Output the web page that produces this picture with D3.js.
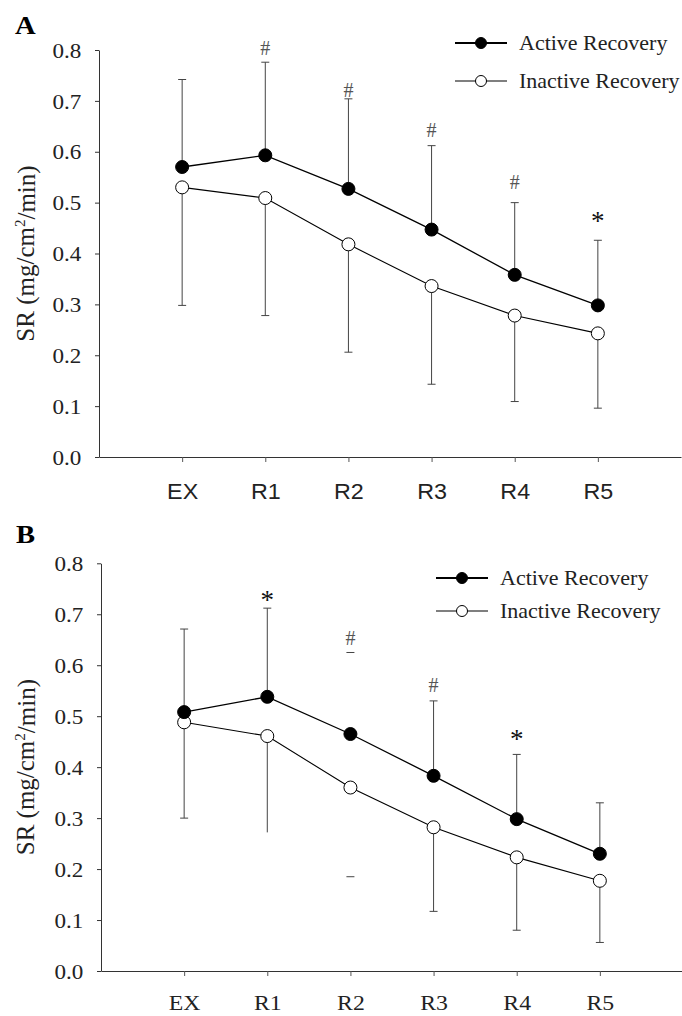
<!DOCTYPE html>
<html><head><meta charset="utf-8">
<script src="https://cdn.jsdelivr.net/npm/d3@7/dist/d3.min.js"></script>
<style>body{margin:0;background:#fff}svg{display:block}</style>
</head><body>
<svg id="chart" width="682" height="1016"></svg>
<script>
const categories = ["EX","R1","R2","R3","R4","R5"];
const yTicks = [0,0.1,0.2,0.3,0.4,0.5,0.6,0.7,0.8];
const seriesNames = ["Active Recovery","Inactive Recovery"];

// Panel A
const activeA        = [0.570,0.593,0.527,0.447,0.358,0.298];
const inactiveA      = [0.530,0.509,0.418,0.336,0.278,0.243];
const activeUpperA   = [0.742,0.776,0.704,0.612,0.500,0.426];
const inactiveLowerA = [0.298,0.278,0.206,0.143,0.109,0.096];
const symbolsA       = ["","#","#","#","#","*"];
const symbolValA     = [null,0.804,0.721,0.643,0.540,0.472];

// Panel B
const activeB        = [0.508,0.538,0.465,0.383,0.298,0.230];
const inactiveB      = [0.488,0.461,0.360,0.282,0.223,0.177];
const activeUpperB   = [0.671,0.712,0.625,0.530,0.425,0.330];
const inactiveLowerB = [0.300,0.272,0.185,0.117,0.080,0.056];
const symbolsB       = ["","*","#","#","*",""];
const symbolValB     = [null,0.736,0.653,0.561,0.462,null];
const stemsB         = [true,true,false,true,true,true];
const lowerCapsB     = [true,false,true,true,true,true];

const svg = d3.select("#chart");
const SERIF = "'Liberation Serif','Times New Roman',serif";
const SANS = "'Liberation Sans',Arial,sans-serif";

function panel(cfg){
  const g = svg.append("g");
  const x = d3.scaleLinear().domain([0,7]).range([cfg.x0, cfg.x1]);
  const y = d3.scaleLinear().domain([0,0.8]).range([cfg.yBottom, cfg.yTop]);
  const pos = i => x(i+1);

  // panel letter
  g.append("text").attr("transform",`translate(${cfg.letterX},${cfg.letterY}) scale(1.1,1)`)
    .attr("font-family",SERIF).attr("font-weight","bold").attr("font-size",26).text(cfg.letter);

  // y axis
  const ya = g.append("g").attr("transform",`translate(${cfg.x0},0)`)
    .call(d3.axisLeft(y).tickValues(yTicks).tickFormat(d3.format(".1f")).tickSize(4).tickSizeOuter(0).tickPadding(12));
  ya.select(".domain").attr("stroke","#333");
  ya.selectAll(".tick line").attr("stroke","#333");
  ya.selectAll("text").attr("font-family",SERIF).attr("font-size",21).attr("fill","#222")
    .attr("transform","scale(1.1,1)").attr("dy","0.34em");

  // x axis
  const xa = g.append("g").attr("transform",`translate(0,${cfg.yBottom})`)
    .call(d3.axisBottom(x).tickValues([1,2,3,4,5,6]).tickFormat(d => categories[d-1]).tickSize(5).tickSizeOuter(0));
  xa.select(".domain").attr("stroke","#333");
  xa.selectAll(".tick line").attr("stroke","#555");
  xa.selectAll("text").attr("font-family",cfg.xFont).attr("font-size",cfg.xFontSize).attr("fill","#222")
    .attr("y",cfg.xLabelOffset).attr("dy","0").attr("transform",`scale(${cfg.xScale},1)`);

  // y title
  const t = g.append("text").attr("transform",`translate(${cfg.titleX},${(cfg.yTop+cfg.yBottom)/2}) rotate(-90)`)
    .attr("text-anchor","middle").attr("dy","0.33em")
    .attr("font-family",SERIF).attr("font-size",25).attr("fill","#222");
  t.append("tspan").text("SR (mg/cm");
  t.append("tspan").attr("font-size",15).attr("dy","-0.6em").text("2");
  t.append("tspan").attr("dy","0.4em").text("/min)");

  // error bars
  const eb = g.append("g").attr("stroke","#444").attr("stroke-width",1);
  const capW = 4;
  categories.forEach((c,i) => {
    const cx = pos(i);
    const stem = cfg.stems ? cfg.stems[i] : true;
    const lowCap = cfg.lowerCaps ? cfg.lowerCaps[i] : true;
    if (stem) {
      eb.append("line").attr("x1",cx).attr("x2",cx).attr("y1",y(cfg.active[i])).attr("y2",y(cfg.upper[i]));
      eb.append("line").attr("x1",cx).attr("x2",cx).attr("y1",y(cfg.inactive[i])).attr("y2",y(cfg.lower[i]));
    }
    eb.append("line").attr("x1",cx-capW).attr("x2",cx+capW).attr("y1",y(cfg.upper[i])).attr("y2",y(cfg.upper[i]));
    if (lowCap) eb.append("line").attr("x1",cx-capW).attr("x2",cx+capW).attr("y1",y(cfg.lower[i])).attr("y2",y(cfg.lower[i]));
  });

  // lines
  const line = d3.line().x((d,i)=>pos(i)).y(d=>y(d));
  g.append("path").datum(cfg.active).attr("d",line).attr("fill","none").attr("stroke","#000").attr("stroke-width",1.3);
  g.append("path").datum(cfg.inactive).attr("d",line).attr("fill","none").attr("stroke","#000").attr("stroke-width",1.1);

  // markers
  g.selectAll(null).data(cfg.inactive).join("circle")
    .attr("cx",(d,i)=>pos(i)).attr("cy",d=>y(d)).attr("r",6.5)
    .attr("fill","#fff").attr("stroke","#000").attr("stroke-width",1);
  g.selectAll(null).data(cfg.active).join("circle")
    .attr("cx",(d,i)=>pos(i)).attr("cy",d=>y(d)).attr("r",6.5)
    .attr("fill","#000").attr("stroke","#000").attr("stroke-width",1);

  // significance symbols
  cfg.symbols.forEach((s,i) => {
    if (!s) return;
    const fs = s === "*" ? 27 : 20;
    const base = y(cfg.symbolVal[i]) + (s === "*" ? 0.47 : 0.34) * fs;
    g.append("text").attr("x",pos(i)).attr("y",base).attr("text-anchor","middle")
      .attr("font-family",SERIF).attr("font-size",fs).attr("fill", s === "*" ? "#111" : "#555").text(s);
  });

  // legend
  const lg = g.append("g");
  seriesNames.forEach((name,k) => {
    const ly = cfg.legendY[k];
    lg.append("line").attr("x1",cfg.legendX).attr("x2",cfg.legendX+52).attr("y1",ly).attr("y2",ly)
      .attr("stroke","#000").attr("stroke-width", k===0 ? 2 : 1.2);
    lg.append("circle").attr("cx",cfg.legendX+26).attr("cy",ly).attr("r",5.5)
      .attr("fill", k===0 ? "#000" : "#fff").attr("stroke","#000").attr("stroke-width",1);
    lg.append("text").attr("transform",`translate(${cfg.legendX+64},${ly+6.5}) scale(1.1,1)`)
      .attr("font-family",SERIF).attr("font-size",20).attr("fill","#222").text(name);
  });
}

panel({
  letter:"A", letterX:15, letterY:34,
  x0:99, x1:681, yBottom:457, yTop:50, titleX:26,
  xFont:SANS, xFontSize:22, xScale:1.06, xLabelOffset:42,
  active:activeA, inactive:inactiveA, upper:activeUpperA, lower:inactiveLowerA,
  symbols:symbolsA, symbolVal:symbolValA,
  legendX:455, legendY:[43,81]
});
panel({
  letter:"B", letterX:16, letterY:543,
  x0:101, x1:683, yBottom:971, yTop:563.3, titleX:26,
  xFont:SERIF, xFontSize:22, xScale:1.08, xLabelOffset:39,
  active:activeB, inactive:inactiveB, upper:activeUpperB, lower:inactiveLowerB,
  symbols:symbolsB, symbolVal:symbolValB, stems:stemsB, lowerCaps:lowerCapsB,
  legendX:436, legendY:[578,611]
});
</script>
</body></html>
